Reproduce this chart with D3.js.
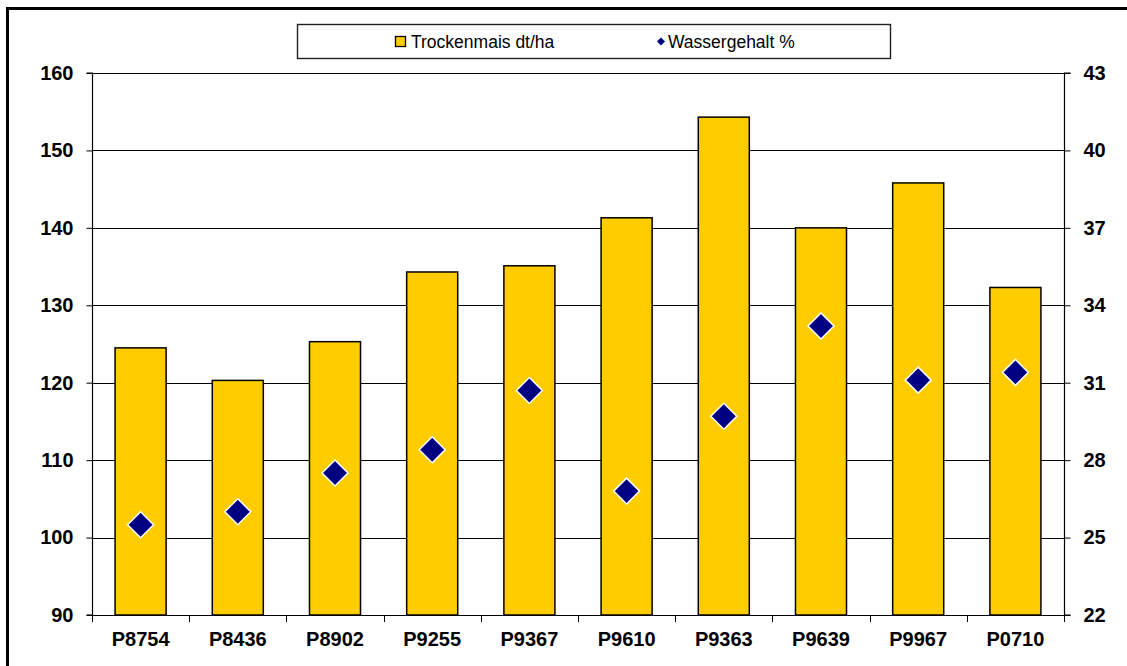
<!DOCTYPE html>
<html>
<head>
<meta charset="utf-8">
<script src="https://cdn.jsdelivr.net/npm/d3@7"></script>
<style>
  html, body { margin: 0; padding: 0; background: #fff; }
  svg { display: block; font-family: "Liberation Sans", Arial, sans-serif; }
</style>
</head>
<body>
<svg id="chart" width="1127" height="666"></svg>
<script>
const categories = ["P8754", "P8436", "P8902", "P9255", "P9367", "P9610", "P9363", "P9639", "P9967", "P0710"];
const trockenmais = [124.5, 120.3, 125.3, 134.3, 135.1, 141.3, 154.3, 140.0, 145.8, 132.3];
const wassergehalt = [25.5, 26.0, 27.5, 28.4, 30.7, 26.8, 29.7, 33.2, 31.1, 31.4];
const leftTicks = [90, 100, 110, 120, 130, 140, 150, 160];
const rightTicks = [22, 25, 28, 31, 34, 37, 40, 43];
const seriesNames = ["Trockenmais dt/ha", "Wassergehalt %"];

const svg = d3.select("#chart");
const W = 1127, H = 666;
const m = { left: 92, right: 1064, top: 73, bottom: 615 };

// outer frame (cropped at right and bottom)
svg.append("path")
  .attr("d", `M7.5,${H + 5} L7.5,8.5 L${W + 5},8.5`)
  .attr("fill", "none").attr("stroke", "#000").attr("stroke-width", 3);

const x = d3.scaleBand().domain(categories).range([m.left, m.right])
  .paddingInner(0.475).paddingOuter(0.2375);
const yL = d3.scaleLinear().domain([90, 160]).range([m.bottom, m.top]);
const yR = d3.scaleLinear().domain([22, 43]).range([m.bottom, m.top]);

// gridlines
svg.append("g").selectAll("line").data(leftTicks.slice(1)).join("line")
  .attr("x1", m.left).attr("x2", m.right)
  .attr("y1", d => Math.round(yL(d)) + 0.5).attr("y2", d => Math.round(yL(d)) + 0.5)
  .attr("stroke", "#000").attr("stroke-width", 1.2);

// bars
svg.append("g").selectAll("rect").data(categories).join("rect")
  .attr("x", d => x(d))
  .attr("y", (d, i) => yL(trockenmais[i]))
  .attr("width", x.bandwidth())
  .attr("height", (d, i) => m.bottom - yL(trockenmais[i]))
  .attr("fill", "#FFCC00").attr("stroke", "#000").attr("stroke-width", 1.5);

// axes
const fontSize = "20px";
const axL = d3.axisLeft(yL).tickValues(leftTicks).tickSize(6).tickPadding(13);
const gL = svg.append("g").attr("transform", `translate(${m.left + 0.5},0)`).call(axL);
const axR = d3.axisRight(yR).tickValues(rightTicks).tickSize(6).tickPadding(13);
const gR = svg.append("g").attr("transform", `translate(${m.right + 0.5},0)`).call(axR);
const xBoundary = d3.scaleLinear().domain([0, categories.length]).range([m.left, m.right]);
const axB = d3.axisBottom(x).tickSize(0).tickPadding(16);
const gB = svg.append("g").attr("transform", `translate(0,${m.bottom + 0.5})`).call(axB);
svg.append("g").selectAll("line").data(d3.range(0, categories.length + 1)).join("line")
  .attr("x1", d => Math.round(xBoundary(d)) + 0.5).attr("x2", d => Math.round(xBoundary(d)) + 0.5)
  .attr("y1", m.bottom).attr("y2", m.bottom + 7)
  .attr("stroke", "#000").attr("stroke-width", 1);

[gL, gR, gB].forEach(g => {
  g.select(".domain").attr("stroke", "#000").attr("stroke-width", 1.2);
  g.selectAll(".tick line").attr("stroke", "#000");
  g.selectAll(".tick text").attr("font-size", fontSize).attr("font-weight", "bold")
    .attr("fill", "#000").attr("font-family", "'Liberation Sans', Arial, sans-serif");
});
gL.select(".domain").attr("d", `M-6,${m.top}H0V${m.bottom}H-6`);
gR.select(".domain").attr("d", `M6,${m.top}H0V${m.bottom}H6`);
gB.select(".domain").attr("d", `M${m.left},0H${m.right}`);

// diamonds
const dr = 13;
const diamond = (cx, cy, r) => `M${cx},${cy - r}L${cx + r},${cy}L${cx},${cy + r}L${cx - r},${cy}Z`;
svg.append("g").selectAll("path").data(categories).join("path")
  .attr("d", (d, i) => diamond(x(d) + x.bandwidth() / 2, yR(wassergehalt[i]), dr))
  .attr("fill", "#000080").attr("stroke", "#fff").attr("stroke-width", 1.5);

// legend
const lg = svg.append("g");
lg.append("rect").attr("x", 297.5).attr("y", 24.5).attr("width", 593).attr("height", 34)
  .attr("fill", "#fff").attr("stroke", "#222").attr("stroke-width", 1.4);
lg.append("rect").attr("x", 395.5).attr("y", 36.5).attr("width", 10).attr("height", 10)
  .attr("fill", "#FFCC00").attr("stroke", "#000").attr("stroke-width", 1.3);
lg.append("text").attr("x", 411).attr("y", 48).text(seriesNames[0])
  .attr("font-size", "17.5px").attr("fill", "#000");
lg.append("path").attr("d", diamond(661, 41.5, 4)).attr("fill", "#000080");
lg.append("text").attr("x", 668).attr("y", 48).text(seriesNames[1])
  .attr("font-size", "17.5px").attr("fill", "#000");
</script>
</body>
</html>
